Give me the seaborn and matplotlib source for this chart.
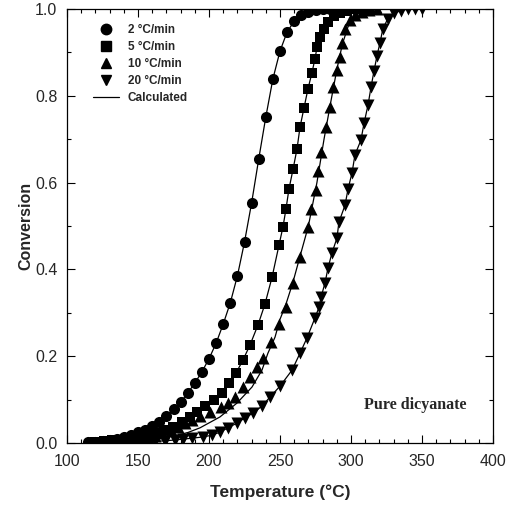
import matplotlib
matplotlib.use("Agg")
import matplotlib.pyplot as plt
from matplotlib.lines import Line2D
from matplotlib.ticker import MultipleLocator
import seaborn as sns
import pandas as pd

# ---- data ----
t_2 = [115, 120, 125, 130, 135, 140, 145, 150, 155, 160, 165, 170, 175, 180, 185, 190, 195, 200,
       205, 210, 215, 220, 225, 230, 235, 240, 245, 250, 255, 260, 265, 270, 275, 280, 285, 290, 295]
c_2 = [0.002, 0.003, 0.005, 0.007, 0.010, 0.014, 0.019, 0.025, 0.031, 0.039, 0.048, 0.062, 0.078,
       0.094, 0.115, 0.138, 0.164, 0.194, 0.230, 0.274, 0.323, 0.385, 0.463, 0.553, 0.654, 0.751,
       0.839, 0.903, 0.947, 0.972, 0.986, 0.994, 0.998, 1.0, 1.0, 1.0, 1.0]

t_5 = [120, 126, 132, 138, 144, 150, 156, 162, 168, 174.6, 181, 186.6, 191.5, 197.2, 203.5, 209.2,
       214.1, 219, 223.9, 228.9, 234.5, 239.4, 244.4, 249.3, 252.1, 254.2, 256.3, 259.2, 262,
       264.1, 266.9, 269.7, 272.5, 274.6, 276.1, 278, 281, 284, 288, 292, 297, 302, 308, 313]
c_5 = [0.002, 0.004, 0.006, 0.008, 0.011, 0.015, 0.019, 0.024, 0.030, 0.037, 0.048, 0.060, 0.071,
       0.085, 0.099, 0.115, 0.138, 0.161, 0.191, 0.226, 0.272, 0.320, 0.382, 0.456, 0.498, 0.539,
       0.585, 0.631, 0.678, 0.728, 0.772, 0.816, 0.853, 0.885, 0.912, 0.935, 0.955, 0.970, 0.983,
       0.990, 0.996, 1.0, 1.0, 1.0]

t_10 = [120, 127, 134, 141, 147, 151, 157, 162, 167, 173, 178, 183, 188, 194, 201, 208.5, 213.4,
        218.3, 223.9, 228.9, 233.5, 238, 243.7, 249.3, 254.2, 259.2, 264.1, 269.7, 271.8, 275.4,
        276.8, 278.9, 282.4, 285.2, 287.3, 290.1, 292.3, 293.7, 296, 299, 303, 308, 313, 318]
c_10 = [0.001, 0.002, 0.002, 0.003, 0.005, 0.008, 0.012, 0.016, 0.022, 0.029, 0.037, 0.046, 0.054,
        0.062, 0.072, 0.083, 0.092, 0.106, 0.129, 0.152, 0.174, 0.196, 0.233, 0.274, 0.313, 0.369,
        0.429, 0.498, 0.539, 0.583, 0.627, 0.671, 0.728, 0.774, 0.820, 0.859, 0.889, 0.922, 0.955,
        0.975, 0.987, 0.994, 0.998, 1.0]

t_20 = [120, 127, 134, 141, 148, 155, 162, 169, 176, 182, 188, 195.8, 202.1, 207.7, 213.4, 219.7,
        225.4, 231, 237.3, 243, 250, 258.5, 264.1, 269, 274.6, 277.5, 278.9, 281.7, 283.8, 286.6,
        290.1, 291.5, 295.8, 297.9, 300.7, 302.8, 307, 309.2, 312, 314.1, 316.2, 318.3, 320.4,
        322.5, 326, 330, 335, 340, 345, 350]
c_20 = [0.0, 0.0, 0.001, 0.001, 0.002, 0.003, 0.004, 0.005, 0.007, 0.009, 0.011, 0.014, 0.018,
        0.025, 0.035, 0.046, 0.058, 0.069, 0.085, 0.106, 0.131, 0.168, 0.207, 0.242, 0.288, 0.313,
        0.336, 0.369, 0.403, 0.438, 0.472, 0.509, 0.548, 0.585, 0.622, 0.664, 0.698, 0.737, 0.779,
        0.820, 0.857, 0.892, 0.922, 0.955, 0.978, 0.990, 0.996, 1.0, 1.0, 1.0]

# calculated curve for 10 °C/min (deviates from points at low conversion)
t_calc10 = [120, 140, 160, 175, 185, 193.7, 207.7, 219.7, 230.3, 237.3, 241.5, 246.5, 250, 254,
            259, 264, 270, 276, 281, 286, 290, 294, 298, 303, 310, 318]
c_calc10 = [0.001, 0.003, 0.008, 0.016, 0.024, 0.035, 0.060, 0.092, 0.129, 0.168, 0.207, 0.244,
            0.285, 0.318, 0.369, 0.429, 0.50, 0.60, 0.70, 0.79, 0.86, 0.92, 0.96, 0.985, 0.997, 1.0]

labels = ["2 \u00b0C/min", "5 \u00b0C/min", "10 \u00b0C/min", "20 \u00b0C/min"]
markers = ["o", "s", "^", "v"]
x_ticks = [100, 150, 200, 250, 300, 350, 400]
y_ticks = [0.0, 0.2, 0.4, 0.6, 0.8, 1.0]

# ---- plotting ----
sns.set_style("ticks")
plt.rcParams["font.family"] = ["Liberation Sans", "DejaVu Sans"]

fig = plt.figure(figsize=(5.09, 5.05), dpi=100)
ax = fig.add_axes([67 / 509, 1 - 443 / 505, 426 / 509, 434 / 505])

series = [(t_2, c_2), (t_5, c_5), (t_10, c_10), (t_20, c_20)]
calc = [(t_2, c_2), (t_5, c_5), (t_calc10, c_calc10), (t_20, c_20)]
sizes = [64, 52, 75, 75]

for (tc, cc) in calc:
    sns.lineplot(x=tc, y=cc, ax=ax, color="black", linewidth=0.9, sort=True,
                 estimator=None, zorder=2)

for (t, c), m, s in zip(series, markers, sizes):
    sns.scatterplot(x=t, y=c, ax=ax, marker=m, s=s, color="black", edgecolor="black",
                    linewidth=0, zorder=3)

ax.set_xlim(100, 400)
ax.set_ylim(0, 1.0)
ax.set_xticks(x_ticks)
ax.set_yticks(y_ticks)
ax.set_xticklabels([str(v) for v in x_ticks])
ax.set_yticklabels([f"{v:.1f}" for v in y_ticks])
ax.xaxis.set_minor_locator(MultipleLocator(10))
ax.yaxis.set_minor_locator(MultipleLocator(0.1))
ax.tick_params(which="both", direction="in", top=True, right=True, labelsize=11.5,
               width=0.8, color="black")
ax.tick_params(which="major", length=6)
ax.tick_params(which="minor", length=3)
ax.tick_params(axis="x", which="major", pad=8)
ax.tick_params(axis="y", which="major", pad=7)
for sp in ax.spines.values():
    sp.set_visible(True)
    sp.set_color("black")
    sp.set_linewidth(0.9)

ax.set_xlabel("Temperature (\u00b0C)", fontsize=12.5, fontweight="bold", labelpad=11)
ax.set_ylabel("Conversion", fontsize=11.5, fontweight="bold", labelpad=1)

ax.text(345, 0.087, "Pure dicyanate", fontsize=11.5, family="Liberation Serif",
        fontweight="bold", ha="center", va="center")

handles = [Line2D([], [], marker=m, color="black", linestyle="None", markersize=7.5)
           for m in markers]
handles.append(Line2D([], [], color="black", linewidth=0.9))
ax.legend(handles, labels + ["Calculated"], loc="upper left", bbox_to_anchor=(0.035, 0.99),
          frameon=False, prop={"size": 8.5, "weight": "bold"}, handlelength=2.2,
          labelspacing=0.42, handletextpad=0.8)

fig.savefig("out.png", dpi=100)
